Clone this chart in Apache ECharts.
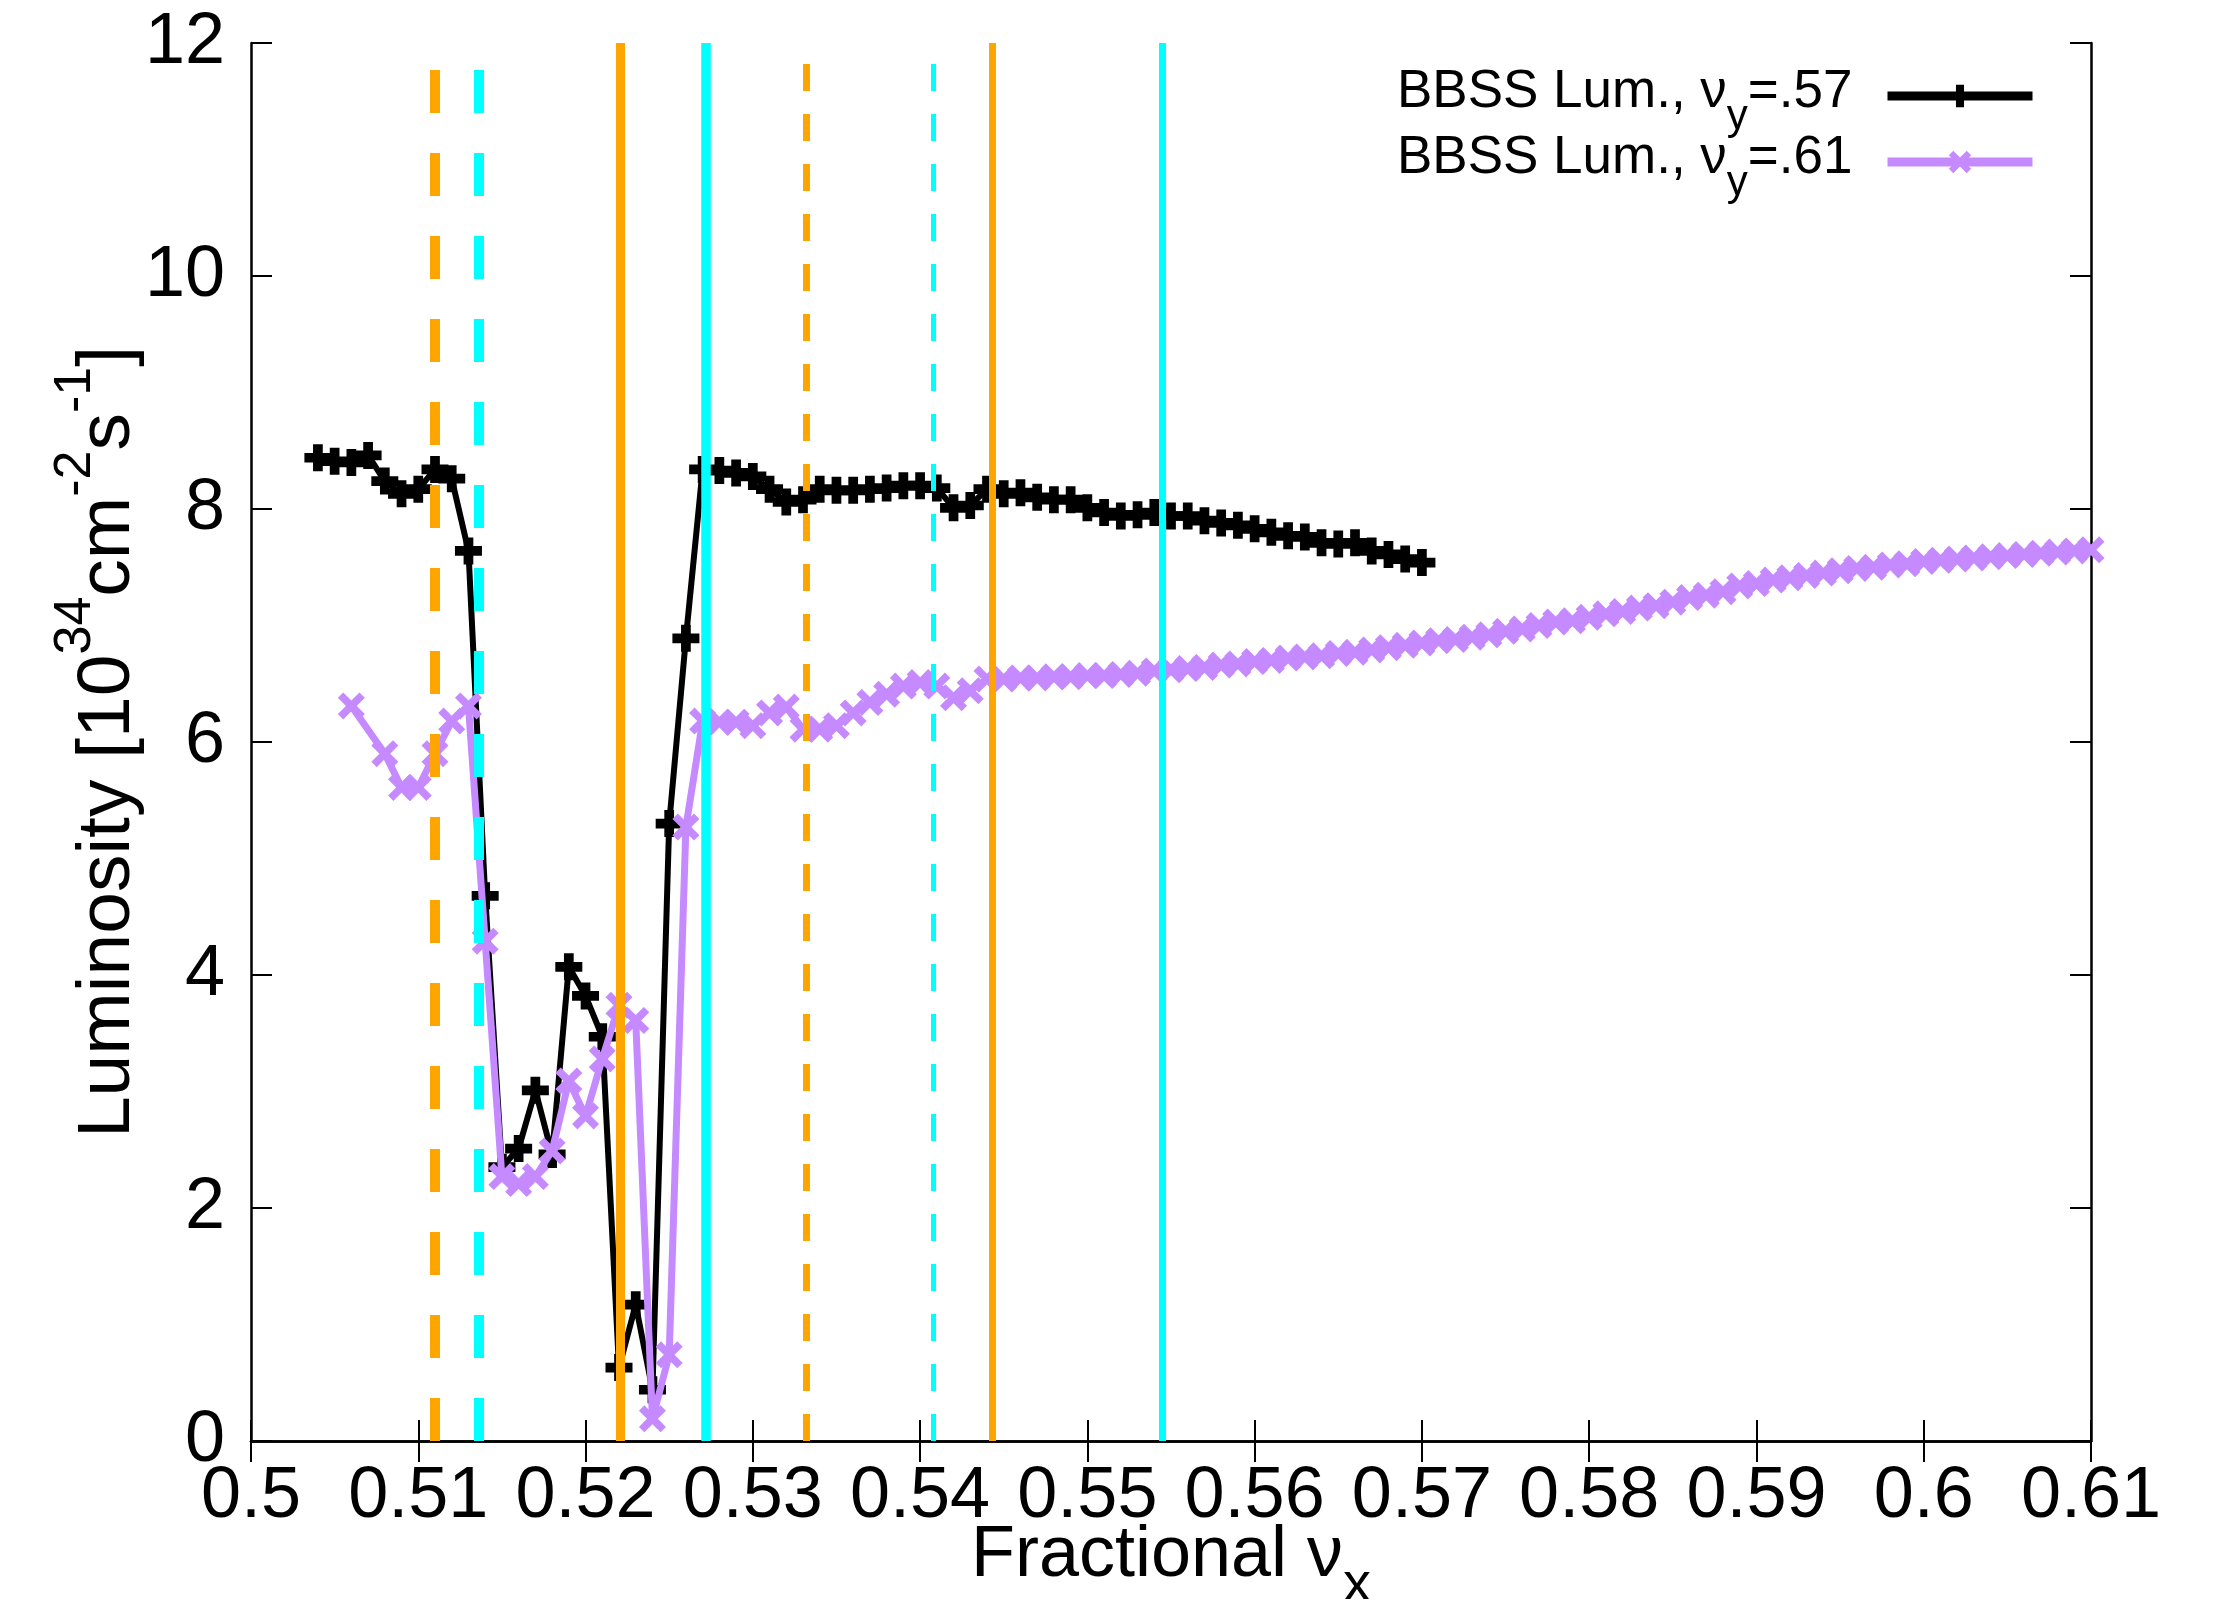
<!DOCTYPE html>
<html>
<head>
<meta charset="utf-8">
<script src="https://cdn.jsdelivr.net/npm/echarts@6/dist/echarts.min.js"></script>
<style>
html,body{margin:0;padding:0;background:#fff;}
#chart{width:2227px;height:1599px;}
</style>
</head>
<body>
<div id="chart"></div>
<script>
// ---- data ----
const blackNux = [0.504,0.505,0.506,0.507,0.508,0.509,0.510,0.511,0.512,0.513,0.514,0.515,0.516,0.517,0.518,0.519,0.520,0.521,0.522,0.523,0.524,0.525,0.526,0.527,0.528,0.529,0.530,0.531,0.532,0.533,0.534,0.535,0.536,0.537,0.538,0.539,0.540,0.541,0.542,0.543,0.544,0.545,0.546,0.547,0.548,0.549,0.550,0.551,0.552,0.553,0.554,0.555,0.556,0.557,0.558,0.559,0.560,0.561,0.562,0.563,0.564,0.565,0.566,0.567,0.568,0.569,0.570];
const blackLum = [8.44,8.41,8.40,8.46,8.24,8.13,8.17,8.34,8.26,7.64,4.68,2.35,2.51,3.01,2.46,4.07,3.82,3.47,0.63,1.17,0.44,5.30,6.89,8.34,8.33,8.31,8.28,8.17,8.06,8.08,8.17,8.16,8.16,8.17,8.18,8.20,8.20,8.18,8.01,8.03,8.17,8.13,8.14,8.10,8.08,8.08,8.01,7.97,7.94,7.95,7.97,7.94,7.94,7.90,7.88,7.86,7.83,7.80,7.77,7.76,7.71,7.70,7.71,7.64,7.61,7.57,7.54];

const purpleNux = [0.506,0.508,0.509,0.510,0.511,0.512,0.513,0.514,0.515,0.516,0.517,0.518,0.519,0.520,0.521,0.522,0.523,0.524,0.525,0.526,0.527,0.528,0.529,0.530,0.531,0.532,0.533,0.534,0.535,0.536,0.537,0.538,0.539,0.540,0.541,0.542,0.543,0.544,0.545,0.546,0.547,0.548,0.549,0.550,0.551,0.552,0.553,0.554,0.555,0.556,0.557,0.558,0.559,0.560,0.561,0.562,0.563,0.564,0.565,0.566,0.567,0.568,0.569,0.570,0.571,0.572,0.573,0.574,0.575,0.576,0.577,0.578,0.579,0.580,0.581,0.582,0.583,0.584,0.585,0.586,0.587,0.588,0.589,0.590,0.591,0.592,0.593,0.594,0.595,0.596,0.597,0.598,0.599,0.600,0.601,0.602,0.603,0.604,0.605,0.606,0.607,0.608,0.609,0.610];
const purpleLum = [6.31,5.90,5.61,5.61,5.90,6.18,6.31,4.29,2.27,2.21,2.27,2.49,3.09,2.79,3.28,3.74,3.61,0.19,0.74,5.27,6.18,6.17,6.17,6.14,6.25,6.30,6.11,6.11,6.14,6.25,6.34,6.41,6.48,6.51,6.48,6.38,6.44,6.54,6.54,6.55,6.55,6.56,6.56,6.57,6.57,6.58,6.59,6.61,6.62,6.63,6.64,6.66,6.67,6.69,6.70,6.72,6.73,6.74,6.76,6.77,6.79,6.81,6.83,6.85,6.87,6.88,6.90,6.92,6.95,6.97,7.00,7.03,7.04,7.07,7.10,7.12,7.15,7.17,7.20,7.24,7.26,7.29,7.34,7.36,7.39,7.41,7.43,7.45,7.47,7.49,7.50,7.52,7.53,7.55,7.56,7.57,7.58,7.59,7.60,7.61,7.62,7.63,7.64,7.65];

// resonance lines (fractional nu_x)
const orangeDashedA = [0.5110];
const cyanDashedA   = [0.5136];
const orangeSolidA  = [0.5221];
const cyanSolidA    = [0.5272];
const orangeDashedB = [0.5332];
const cyanDashedB   = [0.5408];
const orangeSolidB  = [0.5443];
const cyanSolidB    = [0.5545];

const xTickLabels = ['0.5','0.51','0.52','0.53','0.54','0.55','0.56','0.57','0.58','0.59','0.6','0.61'];
const yTickLabels = ['0','2','4','6','8','10','12'];

const seriesNames = ['BBSS Lum., nuy=.57','BBSS Lum., nuy=.61'];
const legendMain = ['BBSS Lum., ν','BBSS Lum., ν'];
const legendSub = ['y','y'];
const legendTail = ['=.57','=.61'];

// ---- chart ----
const FONT = "'Liberation Sans', Arial, sans-serif";
const ORANGE = '#ffa500', CYAN = '#00ffff', PURPLE = '#c58aff';
const plusPath = 'path://M3.2,0 H6.8 V3.2 H10 V6.8 H6.8 V10 H3.2 V6.8 H0 V3.2 H3.2 Z';
const crossPath = 'path://M0,2 L2,0 L5,3 L8,0 L10,2 L7,5 L10,8 L8,10 L5,7 L2,10 L0,8 L3,5 Z';

const xMin = 0.5, xMax = 0.61, xInt = 0.01;
const yMin = 0, yMax = 12, yInt = 2;

function pairs(xs, ys){ return xs.map((x,i)=>[x, ys[i]]); }
function vl(arr, color, width, dash){
  return arr.map(v => [
    {coord: [v, yMin], lineStyle: {color: color, width: width, type: dash || 'solid', cap: 'butt'}},
    {coord: [v, yMax]}
  ]);
}

const chart = echarts.init(document.getElementById('chart'), null, {renderer:'canvas'});
const axisCommon = {
  type: 'value',
  axisLine: {show: true, lineStyle: {color: '#000', width: 2.5}},
  axisTick: {show: true, inside: true, length: 21, lineStyle: {color: '#000', width: 2}},
  splitLine: {show: false}
};

const option = {
  animation: false,
  backgroundColor: '#fff',
  textStyle: {fontFamily: FONT},
  grid: {left: 251, right: 136, top: 43, bottom: 158, containLabel: false, outerBoundsMode: 'none'},
  legend: {
    data: seriesNames,
    orient: 'vertical',
    right: 185,
    top: 61,
    align: 'right',
    itemWidth: 145,
    itemHeight: 28,
    itemGap: -6,
    lineStyle: {width: 9},
    formatter: function(name){
      const i = seriesNames.indexOf(name);
      return '{m|' + legendMain[i] + '}{s|' + legendSub[i] + '}{e|' + legendTail[i] + '}';
    },
    textStyle: {
      fontFamily: FONT, color: '#000',
      rich: {
        m: {fontSize: 53, lineHeight: 60, verticalAlign: 'top', fontFamily: FONT, color:'#000'},
        e: {fontSize: 53, lineHeight: 60, verticalAlign: 'top', padding: [0,30,0,0], fontFamily: FONT, color:'#000'},
        s: {fontSize: 42, lineHeight: 30, padding: [30,0,0,0], verticalAlign: 'top', fontFamily: FONT, color:'#000'}
      }
    }
  },
  xAxis: [
    Object.assign({}, axisCommon, {
      min: xMin, max: xMax, interval: xInt, position: 'bottom',
      axisLabel: {
        show: true, margin: 20, fontSize: 72, color: '#000', fontFamily: FONT,
        formatter: v => xTickLabels[Math.round((v - xMin) / xInt)]
      },
      name: '{a|Fractional ν}{b|x}',
      nameLocation: 'middle',
      nameGap: 79,
      nameMoveOverlap: false,
      nameTextStyle: {
        fontFamily: FONT, color: '#000',
        rich: {
          a: {fontSize: 72, lineHeight: 80, verticalAlign: 'top', fontFamily: FONT, color: '#000'},
          b: {fontSize: 56, lineHeight: 56, padding: [38,0,0,0], verticalAlign: 'top', fontFamily: FONT, color: '#000'}
        }
      }
    }),
    Object.assign({}, axisCommon, {
      min: xMin, max: xMax, interval: xInt, position: 'top',
      axisLabel: {show: false}
    })
  ],
  yAxis: [
    Object.assign({}, axisCommon, {
      min: yMin, max: yMax, interval: yInt, position: 'left',
      axisLabel: {
        show: true, margin: 26, fontSize: 72, color: '#000', fontFamily: FONT,
        formatter: v => yTickLabels[Math.round((v - yMin) / yInt)]
      },
      name: '{a|Luminosity [10}{p|34}{a|cm}{p|-2}{a|s}{p|-1}{a|]}',
      nameLocation: 'middle',
      nameGap: 105,
      nameRotate: 90,
      nameMoveOverlap: false,
      nameTextStyle: {
        fontFamily: FONT, color: '#000',
        rich: {
          a: {fontSize: 75, lineHeight: 82, verticalAlign: 'bottom', fontFamily: FONT, color: '#000'},
          p: {fontSize: 52, lineHeight: 52, padding: [0,0,44,0], verticalAlign: 'bottom', fontFamily: FONT, color: '#000'}
        }
      }
    }),
    Object.assign({}, axisCommon, {
      min: yMin, max: yMax, interval: yInt, position: 'right',
      axisLabel: {show: false}
    })
  ],
  series: [
    {
      name: seriesNames[0],
      type: 'line',
      xAxisIndex: 0, yAxisIndex: 0,
      data: pairs(blackNux, blackLum),
      symbol: plusPath,
      symbolSize: 27,
      showSymbol: true,
      showAllSymbol: true,
      lineStyle: {color: '#000', width: 6},
      itemStyle: {color: '#000'},
      z: 2
    },
    {
      name: seriesNames[1],
      type: 'line',
      xAxisIndex: 0, yAxisIndex: 0,
      data: pairs(purpleNux, purpleLum),
      symbol: crossPath,
      symbolSize: 27,
      showSymbol: true,
      showAllSymbol: true,
      lineStyle: {color: PURPLE, width: 7},
      itemStyle: {color: PURPLE},
      z: 3
    },
    {
      name: 'resonances',
      type: 'line',
      data: [],
      z: 5,
      markLine: {
        silent: true,
        animation: false,
        precision: 6,
        symbol: ['none','none'],
        label: {show: false},
        emphasis: {disabled: true},
        data: [].concat(
          vl(orangeDashedA, ORANGE, 10, [43,40]),
          vl(cyanDashedA, CYAN, 10, [43,40]),
          vl(orangeSolidA, ORANGE, 9),
          vl(cyanSolidA, CYAN, 9.5),
          vl(orangeDashedB, ORANGE, 7, [27,23]),
          vl(cyanDashedB, CYAN, 5, [27,23]),
          vl(orangeSolidB, ORANGE, 7),
          vl(cyanSolidB, CYAN, 7)
        )
      }
    }
  ]
};
chart.setOption(option);
</script>
</body>
</html>
